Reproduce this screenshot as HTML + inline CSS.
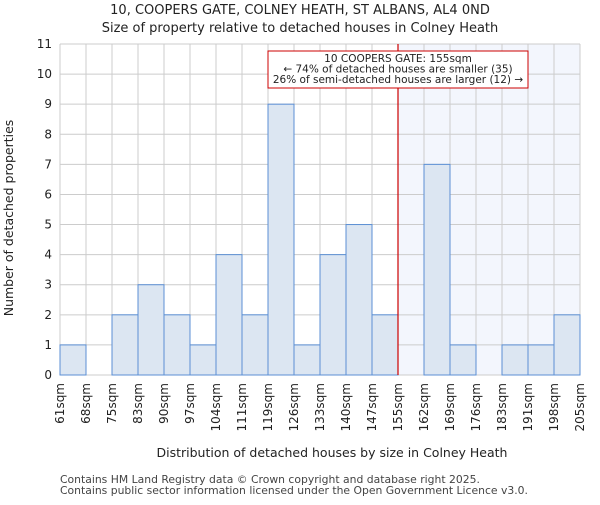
<!DOCTYPE html>
<html><head><meta charset="utf-8"><style>
body{margin:0;background:#fff;}
svg text{font-family:"DejaVu Sans","Liberation Sans",sans-serif;fill:#222;}
</style></head><body>
<svg id="chart" width="600" height="500" xmlns="http://www.w3.org/2000/svg">
<text x="300" y="14" text-anchor="middle" font-size="13">10, COOPERS GATE, COLNEY HEATH, ST ALBANS, AL4 0ND</text>
<text x="300" y="32" text-anchor="middle" font-size="13">Size of property relative to detached houses in Colney Heath</text>
<g id="plot"></g>
<text x="332" y="457" text-anchor="middle" font-size="12.5">Distribution of detached houses by size in Colney Heath</text>
<text transform="translate(13,218) rotate(-90)" text-anchor="middle" font-size="12.5">Number of detached properties</text>
<text x="60" y="483" font-size="10.8" style="fill:#444">Contains HM Land Registry data © Crown copyright and database right 2025.</text>
<text x="60" y="494" font-size="10.8" style="fill:#444">Contains public sector information licensed under the Open Government Licence v3.0.</text>
</svg>
<script>
const categories=["61sqm","68sqm","75sqm","83sqm","90sqm","97sqm","104sqm","111sqm","119sqm","126sqm","133sqm","140sqm","147sqm","155sqm","162sqm","169sqm","176sqm","183sqm","191sqm","198sqm","205sqm"];
const counts=[1,0,2,3,2,1,4,2,9,1,4,5,2,0,7,1,0,1,1,2];
const yTicks=[0,1,2,3,4,5,6,7,8,9,10,11];
const markerIndex=13;
const NS="http://www.w3.org/2000/svg";
const g=document.getElementById('plot');
const X0=60,X1=580,Y0=375,Y1=44,yMax=11;
const bw=(X1-X0)/counts.length;
const xs=i=>X0+i*bw;
const ys=v=>Y0-(v/yMax)*(Y0-Y1);
function mk(t,a){const e=document.createElementNS(NS,t);for(const k in a)e.setAttribute(k,a[k]);g.appendChild(e);return e;}
let r=mk('rect',{x:xs(markerIndex),y:Y1,width:X1-xs(markerIndex),height:Y0-Y1,fill:'#f3f6fd'});


yTicks.forEach(t=>{
 const l=mk('line',{x1:X0,x2:X1,y1:ys(t),y2:ys(t),stroke:'#cccccc'});
 
 
 const tx=mk('text',{x:X0-8,y:ys(t)+4,'text-anchor':'end','font-size':12});
 tx.textContent=t;
 
 
});
categories.forEach((c,i)=>{
 const l=mk('line',{x1:xs(i),x2:xs(i),y1:Y1,y2:Y0,stroke:'#cccccc'});
 
 
 const tx=mk('text',{transform:`translate(${xs(i)+4},${Y0+8}) rotate(-90)`,'text-anchor':'end','font-size':12});
 tx.textContent=c;
 
 
});
counts.forEach((v,i)=>{
 if(v<=0)return;
 const b=mk('rect',{x:xs(i),y:ys(v),width:bw,height:Y0-ys(v),fill:'#dce6f2',stroke:'#5b8fd4','stroke-width':1});
 
 
});
const ml=mk('line',{x1:xs(markerIndex),x2:xs(markerIndex),y1:Y1,y2:Y0,stroke:'#cc0000','stroke-width':1.2});


const box=mk('rect',{x:268,y:51,width:260,height:37,fill:'#fff',stroke:'#cc0000'});


["10 COOPERS GATE: 155sqm","← 74% of detached houses are smaller (35)","26% of semi-detached houses are larger (12) →"].forEach((s,i)=>{
 const t=mk('text',{x:398,y:62+i*10.5,'text-anchor':'middle','font-size':10.5});
 t.textContent=s;
 
 
});
</script>
</body></html>
